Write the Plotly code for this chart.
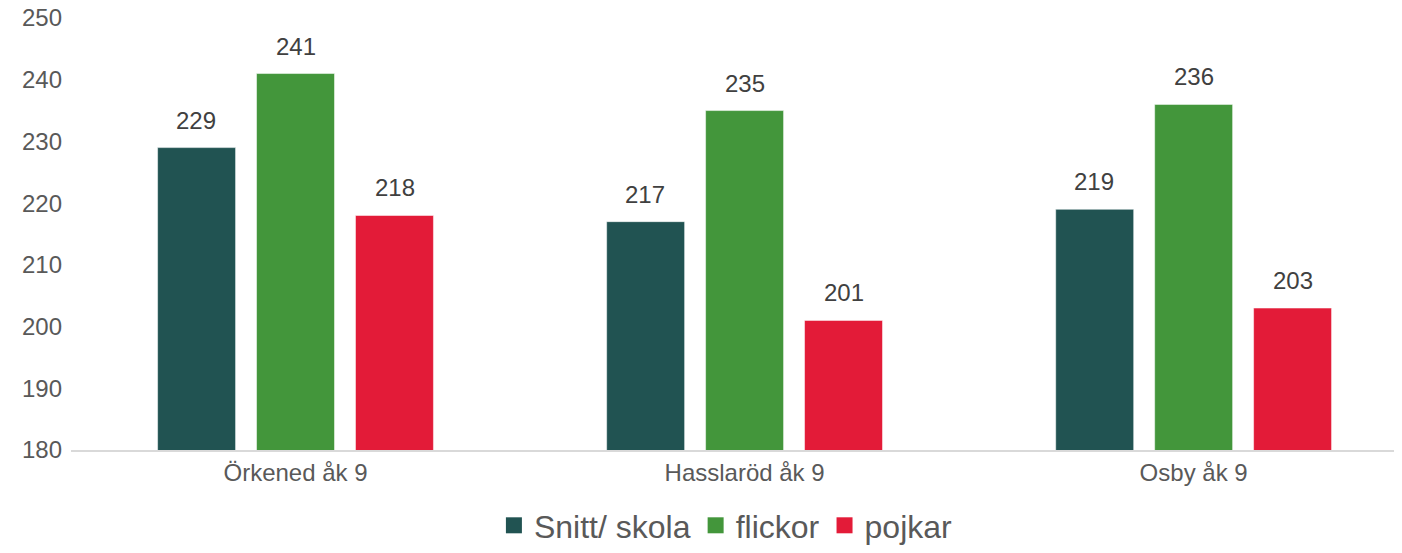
import plotly.graph_objects as go

# --- data ---
skolor = ["Örkened åk 9", "Hasslaröd åk 9", "Osby åk 9"]
snitt = [229, 217, 219]
flickor = [241, 235, 236]
pojkar = [218, 201, 203]

serier = [
    ("Snitt/ skola", snitt, "#215352"),
    ("flickor", flickor, "#43963B"),
    ("pojkar", pojkar, "#E31B38"),
]

fig = go.Figure()

for namn, varden, farg in serier:
    fig.add_trace(go.Bar(
        x=skolor,
        y=varden,
        name=namn,
        showlegend=False,
        marker=dict(color=farg, line=dict(color="rgba(255,255,255,0.5)", width=1)),
    ))

# legend entries with larger square symbols (like Excel)
for namn, varden, farg in serier:
    fig.add_trace(go.Scatter(
        x=[None], y=[None], mode="markers", name=namn,
        marker=dict(symbol="square", size=21, color=farg),
    ))

# data labels above the bars
for i, (namn, varden, farg) in enumerate(serier):
    for skola, v in zip(skolor, varden):
        fig.add_annotation(
            x=skola, y=v, text=str(v),
            xshift=(i - 1) * 99.5, yshift=12,
            yanchor="bottom", showarrow=False,
            font=dict(family="Liberation Sans, Arial", size=24, color="#404040"),
        )

# page has an 8px body margin, so the figure is a bit smaller
fig.update_layout(
    width=1394, height=545,
    margin=dict(l=63, r=0, t=10, b=103),
    barmode="group",
    bargap=0.339,
    bargroupgap=0.212,
    plot_bgcolor="white",
    paper_bgcolor="white",
    font=dict(family="Liberation Sans, Arial", size=24, color="#595959"),
    showlegend=True,
    legend=dict(
        orientation="h", x=0.515, xref="container", xanchor="center",
        y=0.0, yref="container", yanchor="bottom",
        font=dict(size=32, color="#595959"),
        itemwidth=30, traceorder="normal",
    ),
    xaxis=dict(
        range=[-0.5, 2.464], automargin=False,
        showline=True, linecolor="#D9D9D9", linewidth=2,
        ticks="", showgrid=False,
    ),
    yaxis=dict(
        range=[180, 250], dtick=10, automargin=False,
        showgrid=False, zeroline=False, showline=False,
        ticks="", ticklabelstandoff=8, ticklabeloverflow="allow",
    ),
)

fig.write_html("out.html")
